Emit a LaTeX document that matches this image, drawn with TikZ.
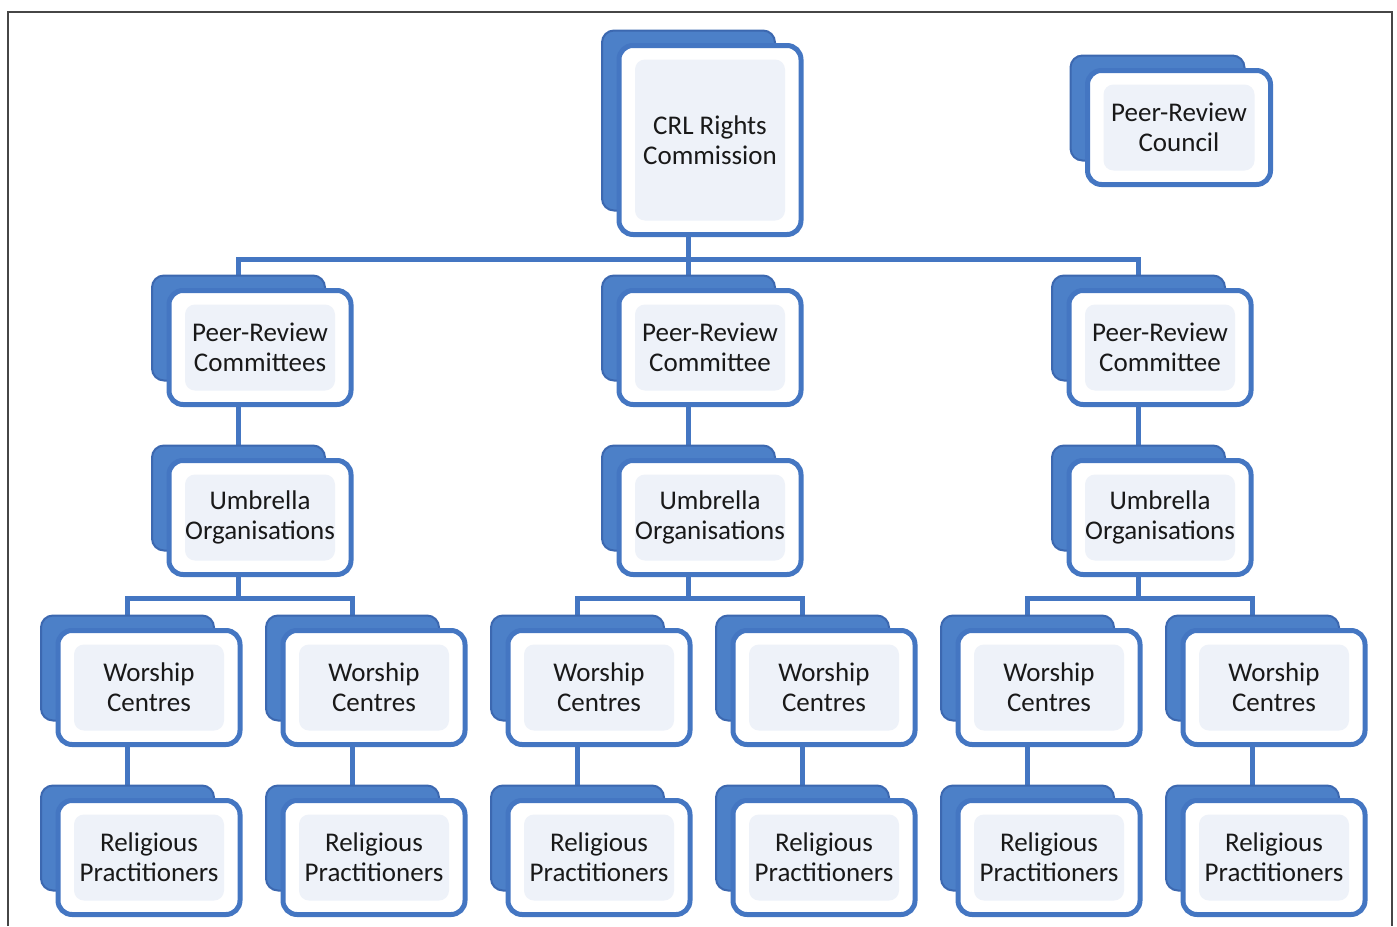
\documentclass[tikz,border=0pt]{standalone}
\usepackage{fontspec}
\setmainfont{Carlito}
\definecolor{cardblue}{RGB}{68,118,194}
\definecolor{backblue}{RGB}{76,128,200}
\definecolor{backedge}{RGB}{60,104,176}
\definecolor{palefill}{RGB}{238,242,249}
\definecolor{framegray}{RGB}{70,70,70}
\pgfdeclarelayer{bg}
\pgfsetlayers{bg,main}
\tikzset{
  frontcard/.style={draw=cardblue, line width=5pt, fill=white, rounded corners=14pt,
    align=center, inner sep=0pt, font=\fontsize{27}{30}\selectfont, text=black!90,
    path picture={\fill[palefill, rounded corners=10pt]
      ([shift={(16,14)}]path picture bounding box.north west) rectangle
      ([shift={(-16,-14)}]path picture bounding box.south east);}},
  backcard/.style={draw=backedge, line width=2pt, fill=backblue, rounded corners=12pt, inner sep=0pt},
  conn/.style={draw=cardblue, line width=5pt},
  frameline/.style={draw=framegray, line width=1.3pt}
}
\newcommand\orgcard[6]{%
  \node[backcard, minimum width=#4-9, minimum height=#5-9] (#1-back) at ([shift={(-21.5,-19.5)}]#2,#3) {};
  \node[frontcard, minimum width=#4, minimum height=#5] (#1) at (#2,#3) {#6};
}
\begin{document}
\begin{tikzpicture}[x=1pt,y=-1pt]
\useasboundingbox (0,0) rectangle (1397,926);
\draw[frameline] (8,926) -- (8,12) -- (1392,12) -- (1392,926);

% top level
\orgcard{crl}{710}{140}{182}{189}{CRL Rights\\Commission}
\orgcard{council}{1179}{127.5}{183}{114}{Peer-Review\\Council}

% row 2
\orgcard{prc1}{260}{347.5}{182}{114}{Peer-Review\\Committees}
\orgcard{prc2}{710}{347.5}{182}{114}{Peer-Review\\Committee}
\orgcard{prc3}{1160}{347.5}{182}{114}{Peer-Review\\Committee}

% row 3
\orgcard{um1}{260}{517.5}{182}{114}{Umbrella\\Organisations}
\orgcard{um2}{710}{517.5}{182}{114}{Umbrella\\Organisations}
\orgcard{um3}{1160}{517.5}{182}{114}{Umbrella\\Organisations}

% row 4
\orgcard{ws1}{149}{687.5}{182}{114}{Worship\\Centres}
\orgcard{ws2}{374}{687.5}{182}{114}{Worship\\Centres}
\orgcard{ws3}{599}{687.5}{182}{114}{Worship\\Centres}
\orgcard{ws4}{824}{687.5}{182}{114}{Worship\\Centres}
\orgcard{ws5}{1049}{687.5}{182}{114}{Worship\\Centres}
\orgcard{ws6}{1274}{687.5}{182}{114}{Worship\\Centres}

% row 5
\orgcard{rp1}{149}{857.5}{182}{114}{Religious\\Practitioners}
\orgcard{rp2}{374}{857.5}{182}{114}{Religious\\Practitioners}
\orgcard{rp3}{599}{857.5}{182}{114}{Religious\\Practitioners}
\orgcard{rp4}{824}{857.5}{182}{114}{Religious\\Practitioners}
\orgcard{rp5}{1049}{857.5}{182}{114}{Religious\\Practitioners}
\orgcard{rp6}{1274}{857.5}{182}{114}{Religious\\Practitioners}

\begin{pgfonlayer}{bg}
  % CRL to committees
  \draw[conn] (crl-back.center |- crl.south) -- (prc2-back.north);
  \draw[conn] (prc1-back.north) -- ++(0,-15) -| (prc3-back.north);
  % committees to umbrella
  \foreach \i in {1,2,3} {
    \draw[conn] (prc\i-back.center |- prc\i.south) -- (um\i-back.north);
  }
  % umbrella to worship centres
  \draw[conn] (um1-back.center |- um1.south) -- ++(0,20);
  \draw[conn] (um2-back.center |- um2.south) -- ++(0,20);
  \draw[conn] (um3-back.center |- um3.south) -- ++(0,20);
  \draw[conn] (ws1-back.north) -- ++(0,-16) -| (ws2-back.north);
  \draw[conn] (ws3-back.north) -- ++(0,-16) -| (ws4-back.north);
  \draw[conn] (ws5-back.north) -- ++(0,-16) -| (ws6-back.north);
  % worship centres to practitioners
  \foreach \i in {1,...,6} {
    \draw[conn] (ws\i-back.center |- ws\i.south) -- (rp\i-back.north);
  }
\end{pgfonlayer}
\end{tikzpicture}
\end{document}
